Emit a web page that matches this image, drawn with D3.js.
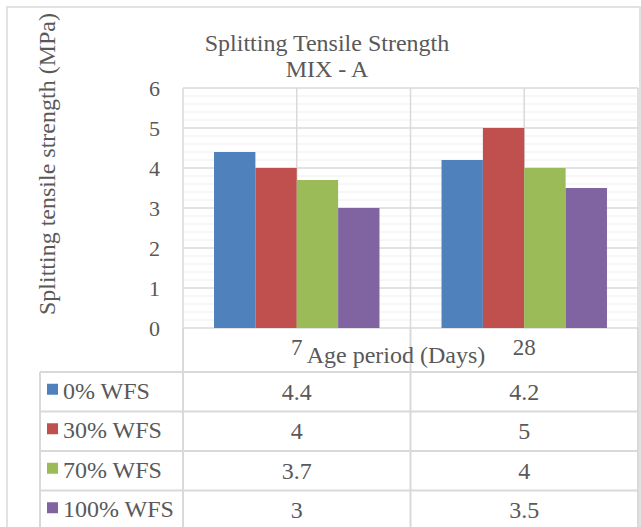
<!DOCTYPE html>
<html>
<head>
<meta charset="utf-8">
<script src="https://cdn.jsdelivr.net/npm/d3@7"></script>
<style>
  body { margin: 0; background: #fff; }
</style>
</head>
<body>
<div id="chartContainer"></div>
<script>

// data
var categories = ["7", "28"]
var seriesNames = ["0% WFS", "30% WFS", "70% WFS", "100% WFS"]
var seriesColors = ["#4f81bd", "#c0504d", "#9bbb59", "#8064a2"]
var values = [
    [4.4, 4.2],
    [4, 5],
    [3.7, 4],
    [3, 3.5]
]
var yTicks = [0, 1, 2, 3, 4, 5, 6]

var W = 641, H = 527
var plot = { left: 183, right: 638, top: 88, bottom: 328 }
var tableTop = 372, rowH = 39.5, tableLeft = 40
var textCol = "#595959", gridCol = "#d9d9d9", minorCol = "#eeeeee"
var FONT = "Liberation Serif"

var svg = d3.select('#chartContainer').append('svg')
    .attr('width', W)
    .attr('height', H)

// every text gets the serif face directly
function addText(sel, size) {
    return sel.append('text')
        .attr('font-family', FONT)
        .style('font-family', FONT)
        .attr('font-size', size)
        .attr('fill', textCol)
}

var x0 = d3.scaleBand()
    .domain(categories)
    .range([plot.left, plot.right])

var x1 = d3.scaleBand()
    .domain(seriesNames)
    .range([0, x0.bandwidth()])
    .paddingOuter(0.75)

var yScale = d3.scaleLinear()
    .domain([0, 6])
    .range([plot.bottom, plot.top])

// outer chart border
svg.append('rect')
    .attr('x', 7).attr('y', 7)
    .attr('width', 633).attr('height', H + 10)
    .attr('fill', 'none')
    .attr('stroke', gridCol)
    .attr('stroke-width', 1.5)

// minor gridlines
var minor = d3.range(0, 6.001, 0.2).filter(function(v) { return Math.abs(v - Math.round(v)) > 0.01 })
svg.append('g').selectAll('line')
    .data(minor)
    .enter().append('line')
    .attr('x1', plot.left).attr('x2', plot.right)
    .attr('y1', function(d) { return yScale(d) }).attr('y2', function(d) { return yScale(d) })
    .attr('stroke', minorCol).attr('stroke-width', 1)

// vertical gridlines: band edges and centres
var vLines = []
categories.forEach(function(c) {
    vLines.push(x0(c), x0(c) + x0.bandwidth() / 2)
})
vLines.push(plot.right)
svg.append('g').selectAll('line')
    .data(vLines)
    .enter().append('line')
    .attr('x1', function(d) { return d }).attr('x2', function(d) { return d })
    .attr('y1', plot.top).attr('y2', plot.bottom)
    .attr('stroke', gridCol).attr('stroke-width', 1.5)

// major gridlines
svg.append('g').selectAll('line')
    .data(yTicks)
    .enter().append('line')
    .attr('x1', plot.left).attr('x2', plot.right)
    .attr('y1', function(d) { return yScale(d) }).attr('y2', function(d) { return yScale(d) })
    .attr('stroke', gridCol).attr('stroke-width', 1.5)

// bars
var groups = svg.append('g').selectAll('g')
    .data(categories)
    .enter().append('g')
    .attr('transform', function(c) { return 'translate(' + x0(c) + ',0)' })

groups.selectAll('rect')
    .data(function(c, ci) {
        return seriesNames.map(function(s, si) { return { s: s, si: si, v: values[si][ci] } })
    })
    .enter().append('rect')
    .attr('x', function(d) { return x1(d.s) })
    .attr('width', x1.bandwidth())
    .attr('y', function(d) { return yScale(d.v) })
    .attr('height', function(d) { return yScale(0) - yScale(d.v) })
    .attr('fill', function(d) { return seriesColors[d.si] })

// y tick labels
var tickG = svg.append('g')
yTicks.forEach(function(t) {
    addText(tickG, 22)
        .attr('x', 160)
        .attr('y', yScale(t))
        .attr('dy', '0.36em')
        .attr('text-anchor', 'end')
        .text(t)
})

// title
var title = addText(svg, 24).attr('text-anchor', 'middle')
title.append('tspan').attr('x', 327).attr('y', 51).text('Splitting Tensile Strength')
title.append('tspan').attr('x', 327).attr('y', 77).text('MIX - A')

// y axis title
addText(svg, 24)
    .attr('transform', 'translate(55,164) rotate(-90)')
    .attr('text-anchor', 'middle')
    .text('Splitting tensile strength (MPa)')

// data table lines
var tbl = svg.append('g').attr('stroke', gridCol).attr('stroke-width', 2)
var rowYs = d3.range(seriesNames.length + 1).map(function(i) { return tableTop + i * rowH })
tbl.selectAll('.hrow')
    .data(rowYs)
    .enter().append('line')
    .attr('x1', tableLeft).attr('x2', plot.right)
    .attr('y1', function(d) { return d }).attr('y2', function(d) { return d })
tbl.selectAll('.vcol')
    .data([plot.left, x0(categories[1]), plot.right])
    .enter().append('line')
    .attr('x1', function(d) { return d }).attr('x2', function(d) { return d })
    .attr('y1', plot.bottom).attr('y2', H)
tbl.append('line')
    .attr('x1', tableLeft).attr('x2', tableLeft)
    .attr('y1', tableTop).attr('y2', H)

// category labels
var catG = svg.append('g')
categories.forEach(function(c) {
    addText(catG, 23)
        .attr('x', x0(c) + x0.bandwidth() / 2)
        .attr('y', 355)
        .attr('text-anchor', 'middle')
        .text(c)
})

addText(svg, 24)
    .attr('x', 396)
    .attr('y', 363)
    .attr('text-anchor', 'middle')
    .text('Age period (Days)')

// legend rows + values
seriesNames.forEach(function(name, i) {
    var row = svg.append('g')
        .attr('transform', 'translate(0,' + (tableTop + i * rowH + rowH / 2) + ')')

    row.append('rect')
        .attr('x', 47).attr('y', -8)
        .attr('width', 11).attr('height', 11)
        .attr('fill', seriesColors[i])

    addText(row, 24)
        .attr('x', 63)
        .attr('y', 7)
        .text(name)

    values[i].forEach(function(v, ci) {
        addText(row, 24)
            .attr('x', x0(categories[ci]) + x0.bandwidth() / 2)
            .attr('y', 8)
            .attr('text-anchor', 'middle')
            .text(v)
    })
})

</script>
</body>
</html>
